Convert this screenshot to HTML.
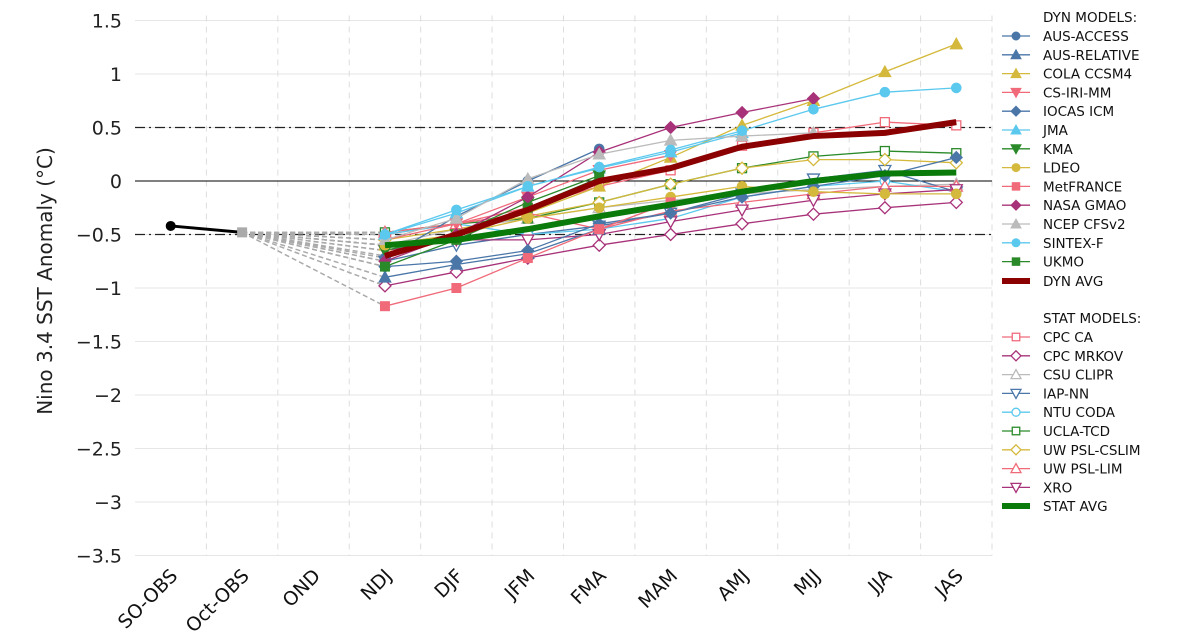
<!DOCTYPE html>
<html><head><meta charset="utf-8"><style>
body{margin:0;background:#fff;}
svg{font-family:"DejaVu Sans","Liberation Sans",sans-serif;}
</style></head><body>
<svg id="chart" width="1202" height="634"></svg>
<script>
const categories=["SO-OBS","Oct-OBS","OND","NDJ","DJF","JFM","FMA","MAM","AMJ","MJJ","JJA","JAS"];
const yTicks=[1.5,1,0.5,0,-0.5,-1,-1.5,-2,-2.5,-3,-3.5];
const yTickLabels=["1.5","1","0.5","0","−0.5","−1","−1.5","−2","−2.5","−3","−3.5"];
const obsValues=[-0.42,-0.48];
const obsDrawColor="#000";
const dynNames=["AUS-ACCESS","AUS-RELATIVE","COLA CCSM4","CS-IRI-MM","IOCAS ICM","JMA","KMA","LDEO","MetFRANCE","NASA GMAO","NCEP CFSv2","SINTEX-F","UKMO"];
const dynColors=["#4a76a8","#4a76a8","#d4b93c","#f06a7a","#4a76a8","#5bc8ee","#2a8a2a","#d4b93c","#f06a7a","#a83279","#bbbbbb","#5bc8ee","#2a8a2a"];
const dynShapes=["circle","tri","tri","dtri","diamond","tri","dtri","circle","square","diamond","tri","circle","square"];
const dynVals=[
[-0.72,-0.33,0.0,0.3],
[-0.9,-0.78,-0.68,-0.45],
[-0.6,-0.5,-0.3,-0.05,0.22,0.52,0.75,1.02,1.28],
[-0.55,-0.4,-0.15,0.1,0.24],
[-0.8,-0.75,-0.65,-0.4,-0.3,-0.15,-0.05,0.05,0.22],
[-0.5,-0.3,-0.05,0.12,0.27,0.45],
[-0.65,-0.5,-0.2,0.05],
[-0.6,-0.5,-0.35,-0.25,-0.15,-0.05,-0.1,-0.12,-0.12],
[-1.17,-1.0,-0.72,-0.45,-0.2],
[-0.75,-0.5,-0.15,0.27,0.5,0.64,0.77],
[-0.55,-0.35,0.02,0.25,0.38,0.42,0.45],
[-0.5,-0.27,-0.05,0.13,0.29,0.47,0.67,0.83,0.87],
[-0.8,-0.55,-0.25,0.03]];
const dynAvg=[-0.7,-0.5,-0.27,0.0,0.12,0.32,0.42,0.45,0.55];
const statNames=["CPC CA","CPC MRKOV","CSU CLIPR","IAP-NN","NTU CODA","UCLA-TCD","UW PSL-CSLIM","UW PSL-LIM","XRO"];
const statColors=["#f06a7a","#a83279","#bbbbbb","#4a76a8","#5bc8ee","#2a8a2a","#d4b93c","#f06a7a","#a83279"];
const statShapes=["square","diamond","tri","dtri","circle","square","diamond","tri","dtri"];
const statVals=[
[-0.5,-0.4,-0.25,-0.05,0.1,0.33,0.45,0.55,0.52],
[-0.98,-0.85,-0.72,-0.6,-0.5,-0.4,-0.31,-0.25,-0.2],
[-0.6,-0.45,-0.35,-0.25,-0.18,-0.12,-0.08,-0.05,-0.03],
[-0.75,-0.6,-0.5,-0.42,-0.3,-0.12,0.02,0.1,-0.1],
[-0.5,-0.4,-0.5,-0.45,-0.35,-0.15,-0.05,0.0,-0.1],
[-0.48,-0.4,-0.35,-0.2,-0.03,0.12,0.23,0.28,0.26],
[-0.55,-0.45,-0.33,-0.2,-0.03,0.12,0.2,0.2,0.17],
[-0.48,-0.4,-0.3,-0.45,-0.28,-0.2,-0.12,-0.05,-0.05],
[-0.65,-0.55,-0.55,-0.5,-0.38,-0.27,-0.18,-0.12,-0.08]];
const statAvg=[-0.6,-0.55,-0.45,-0.33,-0.22,-0.1,0.0,0.07,0.08];

const svg=document.getElementById('chart');
const NS="http://www.w3.org/2000/svg";
const L=135,R=992,T=20.5,B=555.5,yMax=1.5,yMin=-3.5;
const step=(R-L)/categories.length;
const X=i=>L+step*(i+0.5);
const Y=v=>T+(yMax-v)/(yMax-yMin)*(B-T);
function mk(tag,attrs,parent){const e=document.createElementNS(NS,tag);for(const k in attrs)e.setAttribute(k,attrs[k]);(parent||svg).appendChild(e);return e;}
// grid
const grid=mk('g',{});


yTicks.forEach(t=>mk('line',{x1:L,x2:R,y1:Y(t),y2:Y(t),stroke:'#e6e6e6','stroke-width':1},grid));
for(let i=1;i<=categories.length;i++)mk('line',{x1:L+step*i,x2:L+step*i,y1:T-5,y2:B,stroke:'#ddd','stroke-dasharray':'6,5'},grid);
mk('line',{x1:L,x2:R,y1:Y(0),y2:Y(0),stroke:'#000','stroke-width':1},grid);
[0.5,-0.5].forEach(v=>mk('line',{x1:L,x2:R,y1:Y(v),y2:Y(v),stroke:'#222','stroke-width':1.3,'stroke-dasharray':'10,4,2,4'},grid));
// y ticks
const yAx=mk('g',{});


yTicks.forEach((t,i)=>{const tx=mk('text',{x:122,y:Y(t)+7,'text-anchor':'end','font-size':19,fill:'#222'},yAx);tx.textContent=yTickLabels[i];});
const yt=mk('text',{x:0,y:0,'text-anchor':'middle','font-size':20,fill:'#222',transform:'translate(52,281) rotate(-90)'});


yt.textContent="Nino 3.4 SST Anomaly (°C)";
// x labels
const xAx=mk('g',{});


categories.forEach((c,i)=>{const tx=mk('text',{x:0,y:0,'text-anchor':'end','font-size':19,fill:'#111',transform:`translate(${X(i)+8},577) rotate(-45)`},xAx);tx.textContent=c;});
function marker(g,shape,x,y,color,open,s){
 const fill=open?'#fff':color, sw=open?1.3:1;
 if(shape==='circle')return mk('circle',{cx:x,cy:y,r:s*0.8,fill,stroke:color,'stroke-width':sw},g);
 if(shape==='square')return mk('rect',{x:x-s*0.75,y:y-s*0.75,width:s*1.5,height:s*1.5,fill,stroke:color,'stroke-width':sw},g);
 if(shape==='diamond')return mk('path',{d:`M${x},${y-s}L${x+s},${y}L${x},${y+s}L${x-s},${y}Z`,fill,stroke:color,'stroke-width':sw},g);
 if(shape==='tri')return mk('path',{d:`M${x},${y-s}L${x+s},${y+s*0.8}L${x-s},${y+s*0.8}Z`,fill,stroke:color,'stroke-width':sw},g);
 return mk('path',{d:`M${x},${y+s}L${x+s},${y-s*0.8}L${x-s},${y-s*0.8}Z`,fill,stroke:color,'stroke-width':sw},g);
}
// connector dashed lines
const conn=mk('g',{});


dynVals.concat(statVals).forEach(v=>mk('line',{x1:X(1),y1:Y(obsValues[1]),x2:X(3),y2:Y(v[0]),stroke:'#aaa','stroke-width':1.5,'stroke-dasharray':'5,3'},conn));
[dynAvg,statAvg].forEach(v=>mk('line',{x1:X(1),y1:Y(obsValues[1]),x2:X(3),y2:Y(v[0]),stroke:'#aaa','stroke-width':1.5,'stroke-dasharray':'5,3'},conn));
function series(name,vals,color,shape,open){
 const g=mk('g',{});
 
 
 mk('polyline',{points:vals.map((v,i)=>X(i+3)+','+Y(v)).join(' '),fill:'none',stroke:color,'stroke-width':1.3},g);
 vals.forEach((v,i)=>marker(g,shape,X(i+3),Y(v),color,open,6));
}
statVals.forEach((v,k)=>series(statNames[k],v,statColors[k],statShapes[k],true));
dynVals.forEach((v,k)=>series(dynNames[k],v,dynColors[k],dynShapes[k],false));
function avg(name,vals,color){
 const p=mk('polyline',{points:vals.map((v,i)=>X(i+3)+','+Y(v)).join(' '),fill:'none',stroke:color,'stroke-width':6,'stroke-linejoin':'round'});
 
 
}
avg('dyn-avg-line',dynAvg,'#8b0000');
avg('stat-avg-line',statAvg,'#0a7a0a');
// obs
const og=mk('g',{});


mk('line',{x1:X(0),y1:Y(obsValues[0]),x2:X(1),y2:Y(obsValues[1]),stroke:obsDrawColor,'stroke-width':3},og);
mk('circle',{cx:X(0),cy:Y(obsValues[0]),r:5,fill:'#000'},og);
mk('rect',{x:X(1)-5,y:Y(obsValues[1])-5,width:10,height:10,fill:'#aaa'},og);
// legend
const lg=mk('g',{});


const lh=18.8;
function ltext(y,t,bold){const tx=mk('text',{x:1043,y:y+5,'font-size':13.5,fill:'#111'},lg);tx.textContent=t;return tx;}
function lhead(y,t){const tx=mk('text',{x:1043,y:y+5,'font-size':13.5,fill:'#111'},lg);tx.textContent=t;}
lhead(17,"DYN MODELS:");
dynNames.forEach((n,k)=>{const y=36+k*lh;const e=mk('g',{},lg);
 
 
 mk('line',{x1:1002,x2:1030,y1:y,y2:y,stroke:dynColors[k],'stroke-width':1.3},e);marker(e,dynShapes[k],1016,y,dynColors[k],false,5);ltext(y,n);});
mk('line',{x1:1002,x2:1030,y1:281,y2:281,stroke:'#8b0000','stroke-width':6},lg);ltext(281,"DYN AVG");
lhead(318,"STAT MODELS:");
statNames.forEach((n,k)=>{const y=337+k*lh;const e=mk('g',{},lg);
 
 
 mk('line',{x1:1002,x2:1030,y1:y,y2:y,stroke:statColors[k],'stroke-width':1.3},e);marker(e,statShapes[k],1016,y,statColors[k],true,5);ltext(y,n);});
mk('line',{x1:1002,x2:1030,y1:506,y2:506,stroke:'#0a7a0a','stroke-width':6},lg);ltext(506,"STAT AVG");
</script>
</body></html>
